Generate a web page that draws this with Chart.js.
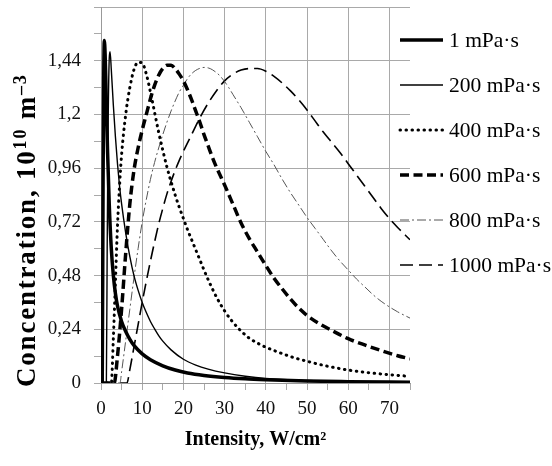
<!DOCTYPE html>
<html>
<head>
<meta charset="utf-8">
<script src="https://cdn.jsdelivr.net/npm/chart.js@4.4.0/dist/chart.umd.min.js"></script>
<style>
  html, body { margin: 0; padding: 0; background: #fff; }
</style>
</head>
<body>
<canvas id="chart" width="552" height="466"></canvas>
<script>
// series labels
const seriesLabels = ["1 mPa·s", "200 mPa·s", "400 mPa·s", "600 mPa·s", "800 mPa·s", "1000 mPa·s"];

// intensity (W/cm2) and concentration (10^10 m^-3)
const int1 = [0, 0.3, 0.5, 0.65, 0.8, 1.0, 1.2, 1.6, 2.0, 2.5, 3, 3.5, 4, 5, 6, 7, 8, 10, 12, 15, 18, 21, 25, 30, 35, 40, 50, 60, 75];
const conc1 = [0, 0, 0.9, 1.35, 1.53, 1.47, 1.33, 1.03, 0.8, 0.6, 0.48, 0.4, 0.345, 0.275, 0.23, 0.195, 0.168, 0.13, 0.104, 0.077, 0.058, 0.045, 0.034, 0.025, 0.019, 0.015, 0.009, 0.006, 0.003];

const int200 = [0, 1.3, 1.5, 1.7, 2.0, 2.2, 2.5, 3, 3.5, 4, 4.5, 5, 6, 7, 8, 9, 10, 11, 12, 13, 14, 15, 17, 20, 23, 26, 30, 35, 40, 50, 60, 75];
const conc200 = [0, 0, 0.6, 1.1, 1.45, 1.48, 1.4, 1.24, 1.1, 0.98, 0.88, 0.8, 0.67, 0.565, 0.48, 0.415, 0.36, 0.315, 0.275, 0.242, 0.212, 0.187, 0.148, 0.106, 0.08, 0.062, 0.045, 0.03, 0.02, 0.011, 0.007, 0.004];

const int400 = [0, 2.5, 3, 3.5, 4, 4.5, 5, 6, 7, 8, 9, 10, 11, 12, 13, 14, 15, 16, 17, 18, 19, 20, 21, 22, 23, 24, 25, 26, 28, 30, 32, 34, 36, 38, 40, 43, 46, 50, 55, 60, 65, 70, 75];
const conc400 = [0, 0, 0.2, 0.45, 0.7, 0.88, 1.02, 1.2, 1.32, 1.4, 1.433, 1.43, 1.38, 1.3, 1.21, 1.12, 1.04, 0.965, 0.9, 0.84, 0.785, 0.735, 0.685, 0.64, 0.595, 0.55, 0.505, 0.462, 0.385, 0.322, 0.272, 0.232, 0.2, 0.178, 0.16, 0.138, 0.118, 0.097, 0.075, 0.058, 0.046, 0.037, 0.03];

const int600 = [0, 3.2, 4, 5, 6, 7, 8, 9, 10, 11, 12, 13, 14, 15, 16, 17, 18, 19, 20, 21, 22, 23, 24, 25, 26, 27, 28, 30, 32, 34, 36, 38, 40, 42, 44, 46, 48, 50, 53, 56, 60, 64, 68, 72, 75];
const conc600 = [0, 0, 0.12, 0.33, 0.58, 0.8, 0.95, 1.05, 1.13, 1.2, 1.27, 1.33, 1.375, 1.405, 1.42, 1.42, 1.405, 1.38, 1.35, 1.31, 1.265, 1.215, 1.165, 1.11, 1.06, 1.01, 0.965, 0.885, 0.8, 0.715, 0.645, 0.585, 0.525, 0.468, 0.42, 0.375, 0.335, 0.302, 0.265, 0.235, 0.198, 0.17, 0.145, 0.122, 0.108];

const int800 = [0, 4.6, 5, 6, 7, 8, 9, 10, 11, 12, 13, 14, 15, 16, 17, 18, 19, 20, 21, 22, 23, 24, 25, 26, 27, 28, 29, 30, 31, 32, 33, 34, 36, 38, 40, 42, 44, 46, 48, 50, 52, 54, 56, 58, 60, 62, 64, 66, 68, 70, 72, 75];
const conc800 = [0, 0, 0.05, 0.19, 0.33, 0.47, 0.6, 0.72, 0.82, 0.91, 0.985, 1.05, 1.11, 1.165, 1.215, 1.26, 1.3, 1.33, 1.36, 1.382, 1.397, 1.406, 1.41, 1.408, 1.4, 1.387, 1.37, 1.347, 1.32, 1.29, 1.26, 1.23, 1.165, 1.1, 1.035, 0.975, 0.91, 0.85, 0.795, 0.74, 0.69, 0.64, 0.59, 0.545, 0.505, 0.465, 0.43, 0.395, 0.365, 0.34, 0.318, 0.29];

const int1000 = [0, 6.3, 7, 8, 9, 10, 11, 12, 13, 14, 15, 16, 17, 18, 19, 20, 22, 24, 26, 28, 30, 32, 34, 36, 38, 40, 42, 44, 46, 48, 50, 52, 54, 56, 58, 60, 62, 64, 66, 68, 70, 72, 75];
const conc1000 = [0, 0, 0.06, 0.16, 0.26, 0.36, 0.455, 0.545, 0.63, 0.71, 0.78, 0.845, 0.9, 0.95, 0.995, 1.035, 1.11, 1.185, 1.25, 1.305, 1.35, 1.38, 1.398, 1.405, 1.405, 1.393, 1.37, 1.34, 1.305, 1.265, 1.22, 1.17, 1.12, 1.075, 1.03, 0.98, 0.93, 0.88, 0.83, 0.78, 0.735, 0.695, 0.64];

// tick labels
const xMajor = [0, 10, 20, 30, 40, 50, 60, 70];
const xLabels = ["0", "10", "20", "30", "40", "50", "60", "70"];
const yMajor = [0, 0.24, 0.48, 0.72, 0.96, 1.2, 1.44];
const yLabels = ["0", "0,24", "0,48", "0,72", "0,96", "1,2", "1,44"];

// axis titles (y title is drawn in pieces for the superscripts)
const xTitle = "Intensity, W/cm²";
const yTitleParts = [["Concentration, 10", false], ["10", true], [" m", false], ["–3", true]];

function toPoints(xs, ys) {
  return xs.map((x, i) => ({ x: x, y: ys[i] }));
}

function isStep(v, step) {
  const k = v / step;
  return Math.abs(k - Math.round(k)) < 1e-6;
}

function findLabel(v, values, labels) {
  for (let i = 0; i < values.length; i++) {
    if (Math.abs(values[i] - v) < 1e-6) return labels[i];
  }
  return "";
}

const gridGrey = "#a9a9a9";

const datasets = [
  { data: toPoints(int1, conc1), borderWidth: 3.5, borderDash: [] },
  { data: toPoints(int200, conc200), borderWidth: 1.4, borderDash: [] },
  { data: toPoints(int400, conc400), borderWidth: 3, borderDash: [0.5, 5.5], borderCapStyle: "round" },
  { data: toPoints(int600, conc600), borderWidth: 3.5, borderDash: [9, 4.5] },
  { data: toPoints(int800, conc800), borderWidth: 1, borderDash: [9, 3, 2, 3], borderColor: "#555" },
  { data: toPoints(int1000, conc1000), borderWidth: 1.6, borderDash: [13, 6] },
].map((d, i) => Object.assign({
  label: seriesLabels[i],
  borderColor: "#000",
  backgroundColor: "#000",
  pointRadius: 0,
  fill: false,
  cubicInterpolationMode: "monotone",
}, d));

// legend on the right
const sideLegend = {
  id: "sideLegend",
  afterDraw(chart) {
    const ctx = chart.ctx;
    ctx.save();
    chart.data.datasets.forEach((ds, i) => {
      const y = 40 + i * 45;
      ctx.beginPath();
      ctx.setLineDash(ds.borderDash);
      ctx.lineWidth = ds.borderWidth;
      ctx.strokeStyle = ds.borderColor;
      ctx.lineCap = ds.borderCapStyle || "butt";
      ctx.moveTo(400, y);
      ctx.lineTo(443, y);
      ctx.stroke();
      ctx.setLineDash([]);
      ctx.fillStyle = "#000";
      ctx.font = '21.5px "Liberation Serif"';
      ctx.textBaseline = "middle";
      ctx.fillText(ds.label, 449, y + 1);
    });
    ctx.restore();
  },
};

// rotated y title with superscripts
const yTitlePlugin = {
  id: "yTitle",
  afterDraw(chart) {
    const ctx = chart.ctx;
    ctx.save();
    ctx.translate(35, 387);
    ctx.rotate(-Math.PI / 2);
    ctx.fillStyle = "#000";
    ctx.textBaseline = "alphabetic";
    if ("letterSpacing" in ctx) ctx.letterSpacing = "1.8px";
    let cx = 0;
    yTitleParts.forEach(([txt, sup]) => {
      ctx.font = sup ? 'bold 18px "Liberation Serif"' : 'bold 27px "Liberation Serif"';
      ctx.fillText(txt, cx, sup ? -9 : 0);
      cx += ctx.measureText(txt).width;
    });
    ctx.restore();
  },
};

new Chart(document.getElementById("chart"), {
  type: "line",
  data: { datasets: datasets },
  plugins: [sideLegend, yTitlePlugin],
  options: {
    responsive: false,
    animation: false,
    layout: { padding: { top: 7, right: 142, bottom: 0, left: 0 } },
    plugins: {
      legend: { display: false },
      tooltip: { enabled: false },
    },
    scales: {
      x: {
        type: "linear",
        min: 0,
        max: 75,
        afterBuildTicks(scale) {
          const t = [];
          for (let v = 0; v <= 75; v += 5) t.push({ value: v });
          scale.ticks = t;
        },
        afterFit(scale) {
          scale.height = 83;
          scale.paddingLeft = 0;
          scale.paddingRight = 0;
        },
        border: { color: "#999", width: 1 },
        grid: {
          color: (c) => (isStep(c.tick.value, 10) ? gridGrey : "rgba(0,0,0,0)"),
          tickColor: gridGrey,
          tickLength: 7,
          lineWidth: 1,
        },
        ticks: {
          autoSkip: false,
          maxRotation: 0,
          padding: 8,
          color: "#111",
          font: { family: "Liberation Serif", size: 19 },
          callback: (v) => findLabel(v, xMajor, xLabels),
        },
        title: {
          display: true,
          text: xTitle,
          color: "#000",
          font: { family: "Liberation Serif", size: 20, weight: "bold" },
          padding: { top: 0, bottom: 14 },
        },
      },
      y: {
        min: 0,
        max: 1.68,
        afterBuildTicks(scale) {
          const t = [];
          for (let k = 0; k <= 14; k++) t.push({ value: Math.round(k * 12) / 100 });
          scale.ticks = t;
        },
        afterFit(scale) {
          scale.width = 101;
          scale.paddingTop = 0;
          scale.paddingBottom = 0;
        },
        border: { color: "#999", width: 1 },
        grid: {
          color: (c) => (isStep(c.tick.value, 0.24) ? gridGrey : "rgba(0,0,0,0)"),
          tickColor: gridGrey,
          tickLength: 7,
          lineWidth: 1,
        },
        ticks: {
          autoSkip: false,
          padding: 13,
          color: "#111",
          font: { family: "Liberation Serif", size: 19 },
          callback: (v) => findLabel(v, yMajor, yLabels),
        },
      },
    },
  },
});
</script>
</body>
</html>
